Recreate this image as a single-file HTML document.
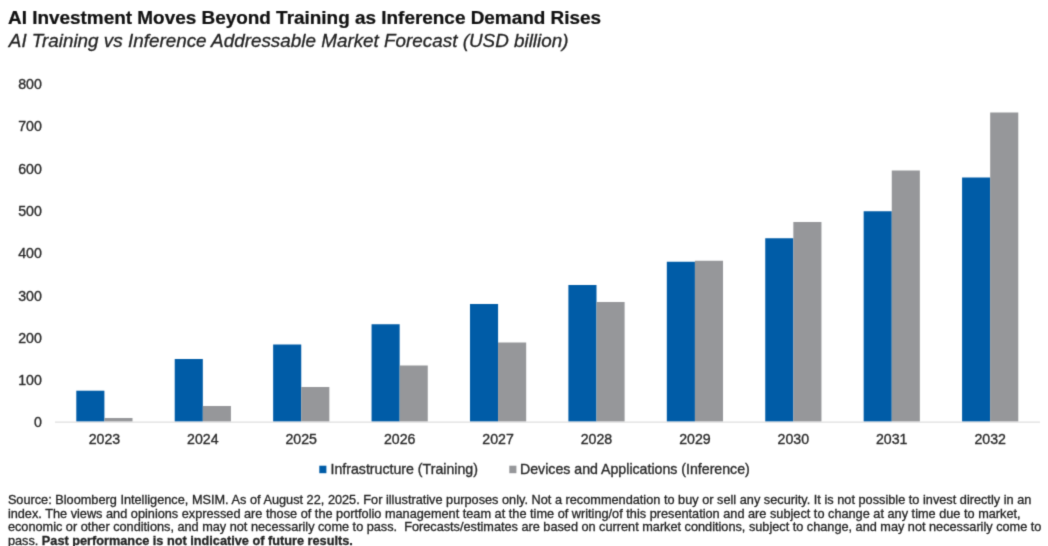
<!DOCTYPE html>
<html><head><meta charset="utf-8"><title>AI Investment Moves Beyond Training as Inference Demand Rises</title>
<style>
html,body{margin:0;padding:0;background:#fff;overflow:hidden;}
body{width:1048px;height:546px;position:relative;overflow:hidden;}
#w{position:absolute;left:-8px;top:-8px;width:1064px;height:562px;background:#fff;filter:url(#sb);}
#c{position:absolute;left:8px;top:8px;width:1048px;height:546px;font-family:"Liberation Sans",Arial,sans-serif;color:#1a1a1a;}
.t{position:absolute;left:8.0px;top:8.95px;transform-origin:0 0;transform:scaleY(0.94);-webkit-text-stroke:0.25px #111;font-size:18.93px;font-weight:bold;line-height:20px;white-space:nowrap;color:#111;}
.s{position:absolute;left:8.8px;top:31.0px;font-size:18.88px;font-style:italic;line-height:20px;white-space:nowrap;color:#222;-webkit-text-stroke:0.3px #222;}
.ch{position:absolute;left:0;top:0;}
.xl{position:absolute;top:431.0px;width:60px;text-align:center;font-size:14.17px;line-height:16px;color:#2a2a2a;-webkit-text-stroke:0.35px #2a2a2a;}
.yl{position:absolute;left:0;width:41.8px;text-align:right;font-size:14.17px;line-height:16px;color:#2a2a2a;-webkit-text-stroke:0.35px #2a2a2a;}
.lg{position:absolute;top:461.4px;-webkit-text-stroke:0.35px #2a2a2a;font-size:14.17px;line-height:16px;white-space:nowrap;color:#2a2a2a;}
.f{position:absolute;left:7.9px;top:493.1px;width:1040px;font-size:12.72px;line-height:13.6px;color:#222;white-space:nowrap;-webkit-text-stroke:0.3px #222;}
</style></head><body>
<div id="w"><div id="c">
<div class="t">AI Investment Moves Beyond Training as Inference Demand Rises</div>
<div class="s">AI Training vs Inference Addressable Market Forecast (USD billion)</div>
<div class="yl" style="top:414.37px">0</div>
<div class="yl" style="top:372.09px">100</div>
<div class="yl" style="top:329.81px">200</div>
<div class="yl" style="top:287.53px">300</div>
<div class="yl" style="top:245.25px">400</div>
<div class="yl" style="top:202.97px">500</div>
<div class="yl" style="top:160.69px">600</div>
<div class="yl" style="top:118.41px">700</div>
<div class="yl" style="top:76.13px">800</div>

<svg class="ch" width="1048" height="546" viewBox="0 0 1048 546"><defs><filter id="sb" x="0" y="0" width="100%" height="100%" color-interpolation-filters="sRGB"><feConvolveMatrix order="3" kernelMatrix="0.0192 0.1001 0.0192 0.1001 0.5228 0.1001 0.0192 0.1001 0.0192" divisor="1" edgeMode="duplicate" preserveAlpha="true"/></filter></defs><rect fill="#d6d6d6" x="55" y="421.6" width="985" height="1"/>
<rect fill="#005ca7" x="76.30" y="390.70" width="28.1" height="30.65"/>
<rect fill="#96979a" x="104.40" y="418.00" width="28.1" height="3.35"/>
<rect fill="#005ca7" x="174.72" y="359.00" width="28.1" height="62.35"/>
<rect fill="#96979a" x="202.82" y="406.00" width="28.1" height="15.35"/>
<rect fill="#005ca7" x="273.14" y="344.50" width="28.1" height="76.85"/>
<rect fill="#96979a" x="301.24" y="387.00" width="28.1" height="34.35"/>
<rect fill="#005ca7" x="371.56" y="324.25" width="28.1" height="97.10"/>
<rect fill="#96979a" x="399.66" y="365.50" width="28.1" height="55.85"/>
<rect fill="#005ca7" x="469.98" y="304.00" width="28.1" height="117.35"/>
<rect fill="#96979a" x="498.08" y="342.50" width="28.1" height="78.85"/>
<rect fill="#005ca7" x="568.40" y="285.00" width="28.1" height="136.35"/>
<rect fill="#96979a" x="596.50" y="302.00" width="28.1" height="119.35"/>
<rect fill="#005ca7" x="666.82" y="261.75" width="28.1" height="159.60"/>
<rect fill="#96979a" x="694.92" y="260.75" width="28.1" height="160.60"/>
<rect fill="#005ca7" x="765.24" y="238.25" width="28.1" height="183.10"/>
<rect fill="#96979a" x="793.34" y="222.00" width="28.1" height="199.35"/>
<rect fill="#005ca7" x="863.66" y="211.25" width="28.1" height="210.10"/>
<rect fill="#96979a" x="891.76" y="170.50" width="28.1" height="250.85"/>
<rect fill="#005ca7" x="962.08" y="177.50" width="28.1" height="243.85"/>
<rect fill="#96979a" x="990.18" y="112.50" width="28.1" height="308.85"/>
<rect fill="#005ca7" x="319.3" y="465.7" width="7.1" height="7.5"/><rect fill="#96979a" x="509.3" y="465.7" width="7.1" height="7.5"/></svg>
<div class="xl" style="left:74.40px">2023</div>
<div class="xl" style="left:172.82px">2024</div>
<div class="xl" style="left:271.24px">2025</div>
<div class="xl" style="left:369.66px">2026</div>
<div class="xl" style="left:468.08px">2027</div>
<div class="xl" style="left:566.50px">2028</div>
<div class="xl" style="left:664.92px">2029</div>
<div class="xl" style="left:763.34px">2030</div>
<div class="xl" style="left:861.76px">2031</div>
<div class="xl" style="left:960.18px">2032</div>

<div class="lg" id="l1" style="left:330.5px">Infrastructure (Training)</div>
<div class="lg" id="l2" style="left:520px">Devices and Applications (Inference)</div>
<div class="f"><span id="f1" style="word-spacing:0.055px">Source: Bloomberg Intelligence, MSIM. As of August 22, 2025. For illustrative purposes only. Not a recommendation to buy or sell any security. It is not possible to invest directly in an</span><br><span id="f2" style="word-spacing:0.04px">index. The views and opinions expressed are those of the portfolio management team at the time of writing/of this presentation and are subject to change at any time due to market,</span><br><span id="f3" style="word-spacing:-0.03px">economic or other conditions, and may not necessarily come to pass.&nbsp; Forecasts/estimates are based on current market conditions, subject to change, and may not necessarily come to</span><br><span id="f4">pass. <b>Past performance is not indicative of future results.</b></span></div>
</div></div>
</body></html>
